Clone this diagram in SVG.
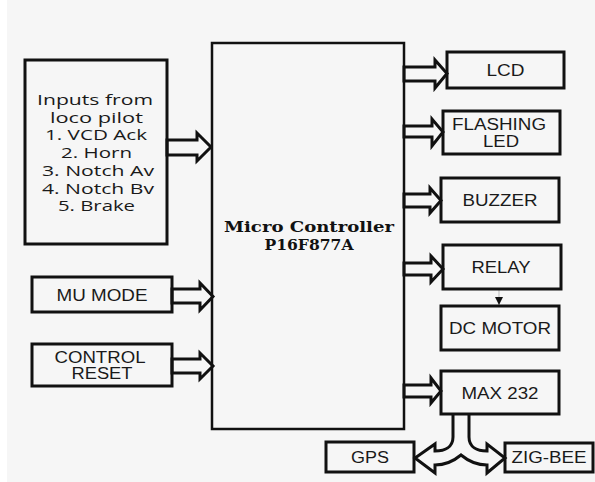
<svg xmlns="http://www.w3.org/2000/svg" width="595" height="482" viewBox="0 0 595 482">
<style>
.box{fill:none;stroke:#111;stroke-width:3}
.arr{fill:#f6f6f6;stroke:#111;stroke-width:3;stroke-linejoin:miter}
.t{font-family:"Liberation Sans",Arial,sans-serif;font-size:16px;fill:#1a1a1a;text-anchor:middle}
.s{font-family:"Open Sans","DejaVu Sans",sans-serif;font-size:14px;fill:#1a1a1a;text-anchor:middle}
.b{font-family:"DejaVu Serif","Liberation Serif",serif;font-size:15px;font-weight:bold;fill:#111;text-anchor:middle}
</style>
<defs>
<marker id="tri" viewBox="0 0 10 10" refX="10" refY="5" markerWidth="8" markerHeight="8" markerUnits="userSpaceOnUse" orient="auto">
<path d="M0,0 L10,5 L0,10 Z" fill="#111"/>
</marker>
</defs>
<rect x="0" y="0" width="595" height="482" fill="#ffffff"/>
<rect x="7" y="0" width="588" height="482" fill="#f6f6f6"/>

<g id="connectors">
<polygon class="arr" points="167,140 197,140 197,133 211,147 197,161 197,155 167,155"/>
<polygon class="arr" points="172,289 200,289 200,283 213,296.5 200,310 200,303 172,303"/>
<polygon class="arr" points="172,359 200,359 200,353 213,366 200,379 200,373 172,373"/>
<polygon class="arr" points="404,67 435,67 435,60 447,73.5 435,88 435,81 404,81"/>
<polygon class="arr" points="404,126 432,126 432,119 443,132 432,146 432,137 404,137"/>
<polygon class="arr" points="404,194 430,194 430,188 441,200.5 430,213 430,207 404,207"/>
<polygon class="arr" points="404,263 431,263 431,256 443,269 431,282 431,275 404,275"/>
<polygon class="arr" points="404,385 431,385 431,378 441,391 431,403 431,397 404,397"/>
<line x1="499" y1="289" x2="499" y2="305" stroke="#bbb" stroke-width="1" marker-end="url(#tri)"/>
<path class="arr" d="M453,414 L453,437 C453,447 445,451 435,451 L435,444 L415,458 L435,473 L435,465 C447,465 455,460 461,455 C467,460 475,465 487,465 L487,473 L505,458 L487,444 L487,451 C477,451 469,447 469,437 L469,414"/>
</g>

<g id="inputs">
<rect class="box" x="25" y="60" width="142" height="184"/>
<text class="s" x="95" y="105" textLength="116" lengthAdjust="spacingAndGlyphs">Inputs from</text>
<text class="s" x="96.5" y="122.5" textLength="93" lengthAdjust="spacingAndGlyphs">loco pilot</text>
<text class="s" x="96" y="140" textLength="102" lengthAdjust="spacingAndGlyphs">1. VCD Ack</text>
<text class="s" x="96.5" y="158" textLength="71" lengthAdjust="spacingAndGlyphs">2. Horn</text>
<text class="s" x="98" y="176" textLength="112" lengthAdjust="spacingAndGlyphs">3. Notch Av</text>
<text class="s" x="98" y="193.5" textLength="112" lengthAdjust="spacingAndGlyphs">4. Notch Bv</text>
<text class="s" x="96.5" y="211" textLength="77" lengthAdjust="spacingAndGlyphs">5. Brake</text>
</g>

<g id="mcu">
<rect x="212" y="43" width="192" height="386" fill="none" stroke="#111" stroke-width="2.5"/>
<text class="b" x="309" y="232" textLength="170" lengthAdjust="spacingAndGlyphs">Micro Controller</text>
<text class="b" x="309" y="250" textLength="89" lengthAdjust="spacingAndGlyphs">P16F877A</text>
</g>

<g id="mumode">
<rect class="box" x="32" y="277" width="140" height="35"/>
<text class="t" x="102" y="301" textLength="91" lengthAdjust="spacingAndGlyphs">MU MODE</text>
</g>

<g id="reset">
<rect class="box" x="32" y="344" width="140" height="42"/>
<text class="t" x="100" y="362.5" textLength="91" lengthAdjust="spacingAndGlyphs">CONTROL</text>
<text class="t" x="102" y="378.5" textLength="61" lengthAdjust="spacingAndGlyphs">RESET</text>
</g>

<g id="lcd">
<rect class="box" x="447" y="52" width="117" height="36"/>
<text class="t" x="505.5" y="76" textLength="38" lengthAdjust="spacingAndGlyphs">LCD</text>
</g>

<g id="led">
<rect class="box" x="443" y="111" width="117" height="43"/>
<text class="t" x="499" y="130" textLength="94" lengthAdjust="spacingAndGlyphs">FLASHING</text>
<text class="t" x="501" y="147" textLength="36" lengthAdjust="spacingAndGlyphs">LED</text>
</g>

<g id="buzzer">
<rect class="box" x="441" y="178" width="118" height="44"/>
<text class="t" x="500" y="206" textLength="75" lengthAdjust="spacingAndGlyphs">BUZZER</text>
</g>

<g id="relay">
<rect class="box" x="443" y="245" width="118" height="44"/>
<text class="t" x="501" y="273" textLength="59" lengthAdjust="spacingAndGlyphs">RELAY</text>
</g>

<g id="dcmotor">
<rect class="box" x="441" y="306" width="118" height="44"/>
<text class="t" x="500" y="334" textLength="102" lengthAdjust="spacingAndGlyphs">DC MOTOR</text>
</g>

<g id="max232">
<rect class="box" x="441" y="371" width="118" height="43"/>
<text class="t" x="500" y="399" textLength="77" lengthAdjust="spacingAndGlyphs">MAX 232</text>
</g>

<g id="gps">
<rect class="box" x="326" y="442" width="88" height="30"/>
<text class="t" x="370" y="463" textLength="38" lengthAdjust="spacingAndGlyphs">GPS</text>
</g>

<g id="zigbee">
<rect class="box" x="505" y="443" width="88" height="29"/>
<text class="t" x="549" y="463" textLength="75" lengthAdjust="spacingAndGlyphs">ZIG-BEE</text>
</g>
</svg>
